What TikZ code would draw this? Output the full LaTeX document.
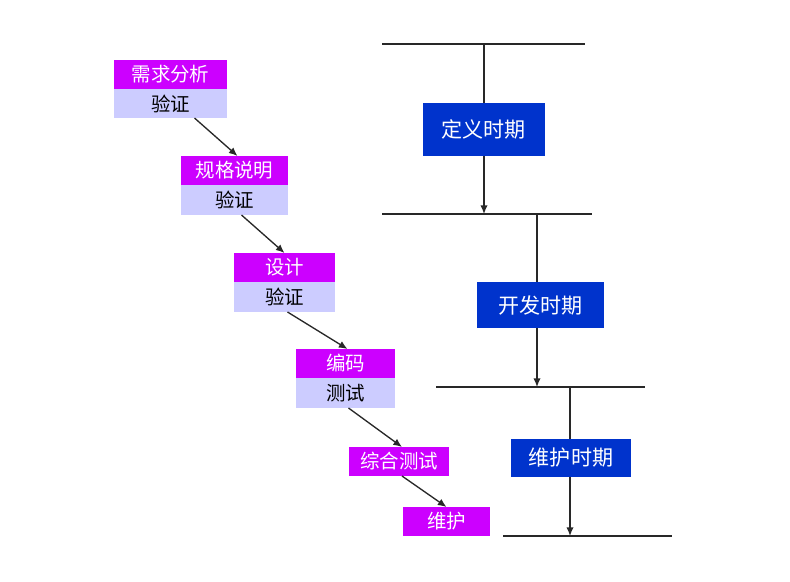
\documentclass[tikz,border=0pt]{standalone}
\usepackage{fontspec}
\setmainfont{Noto Sans CJK SC}
\usetikzlibrary{arrows.meta}
\definecolor{mag}{RGB}{204,0,255}
\definecolor{lav}{RGB}{204,204,255}
\definecolor{pblue}{RGB}{0,51,204}
\definecolor{lncol}{RGB}{40,40,40}
\tikzset{
  bx/.style 2 args={rectangle, inner sep=0pt, outer sep=0pt, minimum width=#1*0.75pt, minimum height=#2*0.75pt},
  mbox/.style={fill=mag, text=white, font=\fontsize{14.6}{16}\selectfont},
  lbox/.style={fill=lav, text=black, font=\fontsize{14.6}{16}\selectfont},
  pbox/.style={fill=pblue, text=white, font=\fontsize{15.8}{17}\selectfont},
  arr/.style={draw=lncol, line width=1pt, -{Latex[length=6.5pt,width=5.5pt]}},
  ln/.style={draw=lncol, line width=1pt}
}
\begin{document}
\begin{tikzpicture}[x=0.75pt,y=-0.75pt]
\useasboundingbox (0,0) rectangle (790,582);
% left chain
\node[bx={113}{29}, mbox] (b1m) at (170.5,74.5) {需求分析};
\node[bx={113}{29}, lbox] (b1v) at (170.5,103.5) {验证};
\node[bx={107}{29}, mbox] (b2m) at (234.5,170.5) {规格说明};
\node[bx={107}{30}, lbox] (b2v) at (234.5,200) {验证};
\node[bx={101}{29}, mbox] (b3m) at (284.5,267.5) {设计};
\node[bx={101}{30}, lbox] (b3v) at (284.5,297) {验证};
\node[bx={99}{29}, mbox] (b4m) at (345.5,363.5) {编码};
\node[bx={99}{30}, lbox] (b4v) at (345.5,393) {测试};
\node[bx={100}{29}, mbox] (b5m) at (399,461.5) {综合测试};
\node[bx={87}{29}, mbox] (b6m) at (446.5,521.5) {维护};
\draw[arr] ([xshift=24*0.75pt]b1v.south) -- ([xshift=3*0.75pt]b2m.north);
\draw[arr] ([xshift=7*0.75pt]b2v.south) -- (b3m.north);
\draw[arr] ([xshift=3*0.75pt]b3v.south) -- ([xshift=2*0.75pt]b4m.north);
\draw[arr] ([xshift=3*0.75pt]b4v.south) -- ([xshift=3*0.75pt]b5m.north);
\draw[arr] ([xshift=3*0.75pt]b5m.south) -- (b6m.north);
% right side
\coordinate (h1a) at (382,44); \coordinate (h1b) at (585,44);
\coordinate (h2a) at (382,214); \coordinate (h2b) at (592,214);
\coordinate (h3a) at (436,387); \coordinate (h3b) at (645,387);
\coordinate (h4a) at (503,536); \coordinate (h4b) at (672,536);
\draw[ln] (h1a) -- (h1b);
\draw[ln] (h2a) -- (h2b);
\draw[ln] (h3a) -- (h3b);
\draw[ln] (h4a) -- (h4b);
\node[bx={122}{53}, pbox] (p1) at (483.5,129.5) {定义时期};
\node[bx={127}{46}, pbox] (p2) at (540.5,305) {开发时期};
\node[bx={120}{38}, pbox] (p3) at (571,457.5) {维护时期};
\coordinate (v1) at (484,44); \coordinate (e1) at (484,214);
\coordinate (v2) at (537,214); \coordinate (e2) at (537,387);
\coordinate (v3) at (570,387); \coordinate (e3) at (570,536);
\draw[ln] (v1) -- (v1 |- p1.north);
\draw[arr] (v1 |- p1.south) -- (e1);
\draw[ln] (v2) -- (v2 |- p2.north);
\draw[arr] (v2 |- p2.south) -- (e2);
\draw[ln] (v3) -- (v3 |- p3.north);
\draw[arr] (v3 |- p3.south) -- (e3);
\end{tikzpicture}
\end{document}
